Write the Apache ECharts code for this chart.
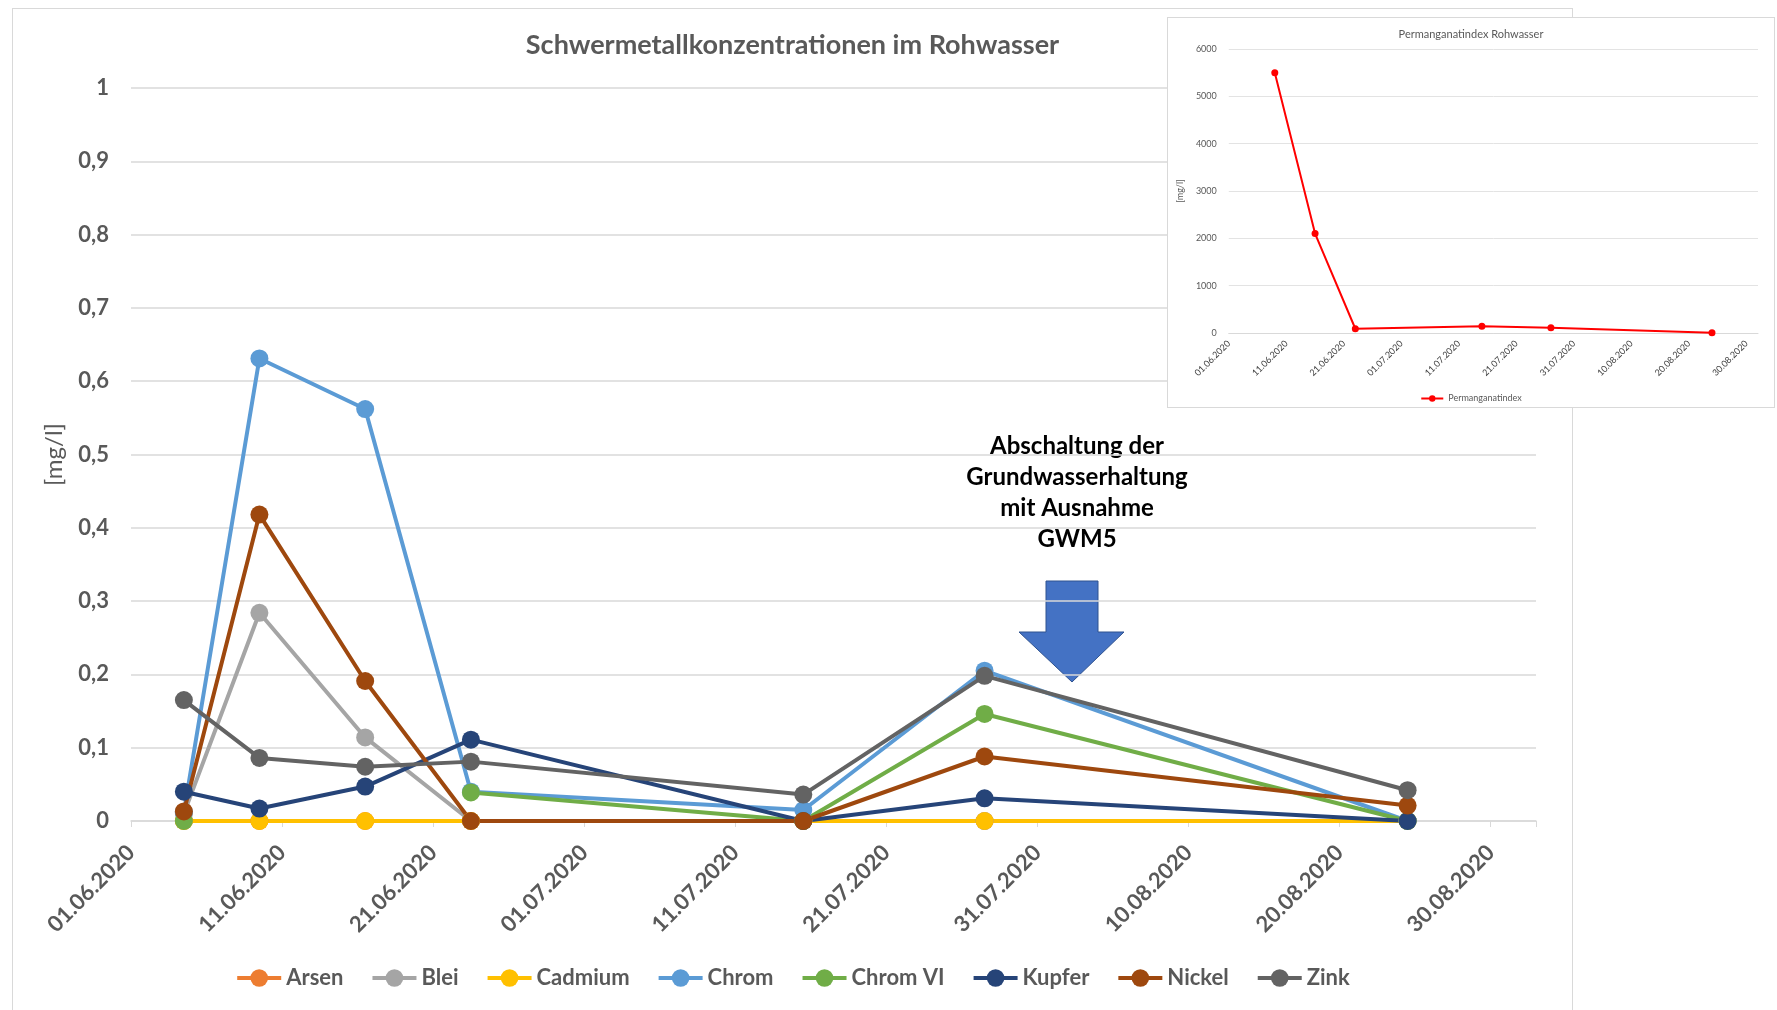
<!DOCTYPE html>
<html>
<head>
<meta charset="utf-8">
<title>Schwermetallkonzentrationen im Rohwasser</title>
<script src="https://cdn.jsdelivr.net/npm/echarts@6/dist/echarts.min.js"></script>
<style>
html, body { margin: 0; padding: 0; background: #fff; overflow: hidden; }
#page { position: relative; width: 1777px; height: 1010px; }
#chart1 {
    position: absolute; left: 12px; top: 8px; width: 1561px; height: 1002px;
    border: 1px solid #d9d9d9; border-bottom: none; box-sizing: border-box; background: #fff;
}
#chart2 {
    position: absolute; left: 1167px; top: 17px; width: 608px; height: 391px;
    border: 1px solid #d9d9d9; box-sizing: border-box; background: #fff;
}
</style>
</head>
<body>
<div id="page">
    <div id="chart1"></div>
    <div id="chart2"></div>
</div>
<script>
// Messtermine Schwermetalle
var dates = ['04.06.2020', '09.06.2020', '16.06.2020', '23.06.2020', '15.07.2020', '27.07.2020', '24.08.2020'];
var arsen    = [0, 0, 0, 0, 0, 0, 0];
var blei     = [0.01, 0.284, 0.114, 0, 0, 0, 0];
var cadmium  = [0, 0, 0, 0, 0, 0, 0];
var chrom    = [0.012, 0.631, 0.562, 0.04, 0.015, 0.205, 0];
var chromVI  = [0, null, null, 0.039, 0, 0.146, 0];
var kupfer   = [0.04, 0.017, 0.047, 0.111, 0, 0.031, 0];
var nickel   = [0.013, 0.418, 0.191, 0, 0, 0.088, 0.021];
var zink     = [0.165, 0.086, 0.074, 0.081, 0.036, 0.198, 0.042];

var metalNames  = ['Arsen', 'Blei', 'Cadmium', 'Chrom', 'Chrom VI', 'Kupfer', 'Nickel', 'Zink'];
var metalValues = [arsen, blei, cadmium, chrom, chromVI, kupfer, nickel, zink];
var metalColors = ['#ED7D31', '#A5A5A5', '#FFC000', '#5B9BD5', '#70AD47', '#264478', '#9E480E', '#636363'];

// Permanganatindex
var pmDates  = ['09.06.2020', '16.06.2020', '23.06.2020', '15.07.2020', '27.07.2020', '24.08.2020'];
var pmValues = [5500, 2100, 90, 140, 110, 5];

var startDay = Date.UTC(2020, 5, 1);
function dayOf(str) {
    var p = str.split('.');
    return (Date.UTC(+p[2], +p[1] - 1, +p[0]) - startDay) / 86400000;
}
function dateLabel(v) {
    if (v % 10 !== 0) return '';
    var d = new Date(startDay + v * 86400000);
    var dd = ('0' + d.getUTCDate()).slice(-2);
    var mm = ('0' + (d.getUTCMonth() + 1)).slice(-2);
    return dd + '.' + mm + '.' + d.getUTCFullYear();
}

var font = 'Lato, "Open Sans", sans-serif';
var grey = '#595959';

function drawChart1() {
    var myChart = echarts.init(document.getElementById('chart1'));
    var series = metalNames.map(function (name, k) {
        return {
            name: name,
            type: 'line',
            symbol: 'circle',
            symbolSize: 18,
            color: metalColors[k],
            lineStyle: { width: 4 },
            connectNulls: false,
            // Excel-Datumsachse: Punkt mittig im Tag
            data: dates.map(function (d, i) { return [dayOf(d) + 0.5, metalValues[k][i]]; })
        };
    });
    var option = {
        animation: false,
        title: {
            text: 'Schwermetallkonzentrationen im Rohwasser',
            left: 'center',
            top: 18,
            textStyle: { fontFamily: font, fontSize: 27, fontWeight: 'bold', color: grey }
        },
        legend: {
            data: metalNames,
            left: 'center',
            top: 953,
            itemWidth: 44,
            itemHeight: 22,
            itemGap: 27,
            lineStyle: { width: 4 },
            textStyle: { fontFamily: font, fontSize: 22, fontWeight: 'bold', color: grey }
        },
        grid: { left: 118, right: 36, top: 79, bottom: 189 },
        xAxis: {
            type: 'value',
            min: 0,
            max: 93,
            interval: 10,
            axisLine: { lineStyle: { color: '#d9d9d9', width: 1.5 } },
            axisTick: { show: true, length: 6, lineStyle: { color: '#d9d9d9' } },
            splitLine: { show: false },
            axisLabel: {
                rotate: 45,
                margin: 28,
                formatter: dateLabel,
                fontFamily: font, fontSize: 22, fontWeight: 'bold', color: grey
            }
        },
        yAxis: {
            type: 'value',
            min: 0,
            max: 1,
            interval: 0.1,
            name: '[mg/l]',
            nameLocation: 'middle',
            nameGap: 65,
            nameTextStyle: { fontFamily: font, fontSize: 24, color: grey },
            axisLine: { show: false },
            axisTick: { show: false },
            splitLine: { lineStyle: { color: '#d9d9d9', width: 1.5 } },
            axisLabel: {
                margin: 22,
                formatter: function (v) { return String(+v.toFixed(1)).replace('.', ','); },
                fontFamily: font, fontSize: 22, fontWeight: 'bold', color: grey
            }
        },
        graphic: [
            {
                type: 'text',
                x: 1064,
                y: 422,
                style: {
                    text: 'Abschaltung der\nGrundwasserhaltung\nmit Ausnahme\nGWM5',
                    align: 'center',
                    verticalAlign: 'top',
                    lineHeight: 31,
                    font: 'bold 24px Lato, "Open Sans", sans-serif',
                    fill: '#000'
                }
            },
            {
                type: 'polygon',
                shape: {
                    points: [[1033, 572], [1085, 572], [1085, 623], [1111, 623],
                             [1059, 673], [1006, 623], [1033, 623]]
                },
                style: { fill: '#4472C4', stroke: '#2F528F', lineWidth: 1 }
            }
        ],
        series: series
    };
    myChart.setOption(option);
}

function drawChart2() {
    var myChart = echarts.init(document.getElementById('chart2'));
    var option = {
        animation: false,
        title: {
            text: 'Permanganatindex Rohwasser',
            left: 'center',
            top: 6,
            textStyle: { fontFamily: font, fontSize: 11, fontWeight: 'normal', color: grey }
        },
        legend: {
            data: ['Permanganatindex'],
            left: 'center',
            top: 371,
            itemWidth: 22,
            itemHeight: 8,
            lineStyle: { width: 2 },
            textStyle: { fontFamily: font, fontSize: 9, color: grey }
        },
        grid: { left: 55, right: 16, top: 31, bottom: 74 },
        xAxis: {
            type: 'value',
            min: 0,
            max: 92,
            interval: 10,
            axisLine: { lineStyle: { color: '#d9d9d9' } },
            axisTick: { show: false },
            splitLine: { show: false },
            axisLabel: {
                rotate: 45,
                margin: 9,
                formatter: dateLabel,
                fontFamily: font, fontSize: 9, color: '#404040'
            }
        },
        yAxis: {
            type: 'value',
            min: 0,
            max: 6000,
            interval: 1000,
            name: '[mg/l]',
            nameLocation: 'middle',
            nameGap: 40,
            nameTextStyle: { fontFamily: font, fontSize: 9, color: grey },
            axisLine: { show: false },
            axisTick: { show: false },
            splitLine: { lineStyle: { color: '#e3e3e3' } },
            axisLabel: {
                margin: 12,
                formatter: function (v) { return String(v); },
                fontFamily: font, fontSize: 9, color: grey
            }
        },
        series: [{
            name: 'Permanganatindex',
            type: 'line',
            symbol: 'circle',
            symbolSize: 7,
            color: '#FF0000',
            lineStyle: { width: 2 },
            data: pmDates.map(function (d, i) { return [dayOf(d), pmValues[i]]; })
        }]
    };
    myChart.setOption(option);
}

drawChart1();
drawChart2();
</script>
</body>
</html>
